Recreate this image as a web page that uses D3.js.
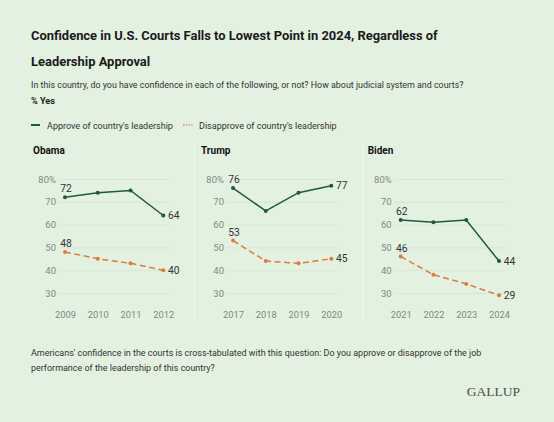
<!DOCTYPE html>
<html><head><meta charset="utf-8">
<script src="https://cdn.jsdelivr.net/npm/d3@7"></script>
<style>
html,body{margin:0;padding:0;background:#e3f1e0;}
svg{display:block;font-family:Roboto,"Noto Sans",sans-serif;}
</style></head><body>
<svg id="c" width="554" height="422"></svg>
<script>
const panels = ["Obama","Trump","Biden"];
const years = [["2009","2010","2011","2012"],["2017","2018","2019","2020"],["2021","2022","2023","2024"]];
const approve = [[72,74,75,64],[76,66,74,77],[62,61,62,44]];
const disapprove = [[48,45,43,40],[53,44,43,45],[46,38,34,29]];
const yTicks = [30,40,50,60,70,80];

const svg = d3.select("#c");
const W=554,H=422;
svg.append("rect").attr("width",W).attr("height",H).attr("fill","#e3f1e0");

const green="#1f5843", orange="#e07a3c", tickCol="#818a81";

function fit(sel, target){
  const fs=+sel.attr("font-size");
  const w=sel.node().getComputedTextLength();
  if(w>0) sel.attr("font-size", fs*target/w);
  return sel;
}
function txt(x,y,s,fs,opts={}){
  const t=svg.append("text").attr("x",x).attr("y",y).attr("font-size",fs).attr("fill",opts.fill||"#333")
    .attr("font-weight",opts.bold?700:400).text(s);
  if(opts.width) fit(t,opts.width);
  return t;
}
const t1=txt(31,40,"Confidence in U.S. Courts Falls to Lowest Point in 2024, Regardless of",14,{bold:true,fill:"#1a1a1a",width:407});
txt(31,66,"Leadership Approval",+t1.attr("font-size"),{bold:true,fill:"#1a1a1a"});
txt(31,88,"In this country, do you have confidence in each of the following, or not? How about judicial system and courts?",9.5,{width:433});
txt(31,104,"% Yes",9.5,{bold:true,fill:"#222",width:24});

// legend
svg.append("line").attr("x1",31).attr("x2",40).attr("y1",125).attr("y2",125).attr("stroke",green).attr("stroke-width",2);
txt(47,128.5,"Approve of country's leadership",9.5,{width:126});
svg.append("line").attr("x1",183).attr("x2",193).attr("y1",125).attr("y2",125).attr("stroke",orange).attr("stroke-width",1.3).attr("stroke-dasharray","1.5,1.2").attr("opacity",0.7);
txt(199,128.5,"Disapprove of country's leadership",9.5,{width:138});

// separators
[194,362.5].forEach(x=>svg.append("line").attr("x1",x).attr("x2",x).attr("y1",140).attr("y2",322).attr("stroke","#eef7ec").attr("stroke-width",1.2));

const y = d3.scaleLinear().domain([30,80]).range([293,179]);
const offsets=[0,168,335.7];

panels.forEach((name,i)=>{
  const ox=offsets[i];
  const g=svg.append("g");
  g.append("text").attr("x",33+ox-(i==2?1:0)).attr("y",154).attr("font-size",10).attr("font-weight",700).attr("fill","#111").text(name);
  const x=d3.scalePoint().domain(years[i]).range([65+ox,163.3+ox]);
  const gx0=59+ox, gx1=170+ox;
  const yAxis=d3.axisLeft(y).tickValues(yTicks).tickSize(-(gx1-gx0)).tickPadding(3)
     .tickFormat(d=>d===80?"80%":d);
  const ya=g.append("g").attr("transform",`translate(${gx0},0)`).call(yAxis);
  ya.select(".domain").remove();
  ya.selectAll(".tick line").attr("stroke","#d5e8d2").attr("stroke-width",1);
  ya.selectAll(".tick text").attr("fill",tickCol).attr("font-size",9.5).attr("font-family","Roboto,'Noto Sans',sans-serif");
  const xAxis=d3.axisBottom(x).tickSize(0).tickPadding(0);
  const xa=g.append("g").attr("transform","translate(0,311)").call(xAxis);
  xa.select(".domain").remove();
  xa.selectAll(".tick text").attr("fill",tickCol).attr("font-size",9.3).attr("font-family","Roboto,'Noto Sans',sans-serif");

  const line=d3.line().x((d,j)=>x(years[i][j])).y(d=>y(d));
  [[disapprove[i],orange,"6,3.5"],[approve[i],green,null]].forEach(([vals,col,dash])=>{
    g.append("path").attr("d",line(vals)).attr("fill","none").attr("stroke",col).attr("stroke-width",1.5)
      .attr("stroke-dasharray",dash);
    g.selectAll(null).data(vals).enter().append("circle")
      .attr("cx",(d,j)=>x(years[i][j])).attr("cy",d=>y(d)).attr("r",2).attr("fill",col);
    g.append("text").attr("x",x(years[i][0])+1).attr("y",y(vals[0])-5).attr("text-anchor","middle")
      .attr("font-size",10.3).attr("fill","#333").text(vals[0]);
    g.append("text").attr("x",x(years[i][3])+4.7).attr("y",y(vals[3])+3.6).attr("font-size",10.3).attr("fill","#333").text(vals[3]);
  });
});

const f1=txt(31,356,"Americans' confidence in the courts is cross-tabulated with this question: Do you approve or disapprove of the job",9.5,{width:451});
txt(31,371,"performance of the leadership of this country?",+f1.attr("font-size"));
svg.append("text").attr("x",520).attr("y",396).attr("text-anchor","end").attr("font-size",13.5)
  .attr("font-family","'Liberation Serif','DejaVu Serif',serif").attr("fill","#4a4f4a").text("GALLUP");
</script>
</body></html>
